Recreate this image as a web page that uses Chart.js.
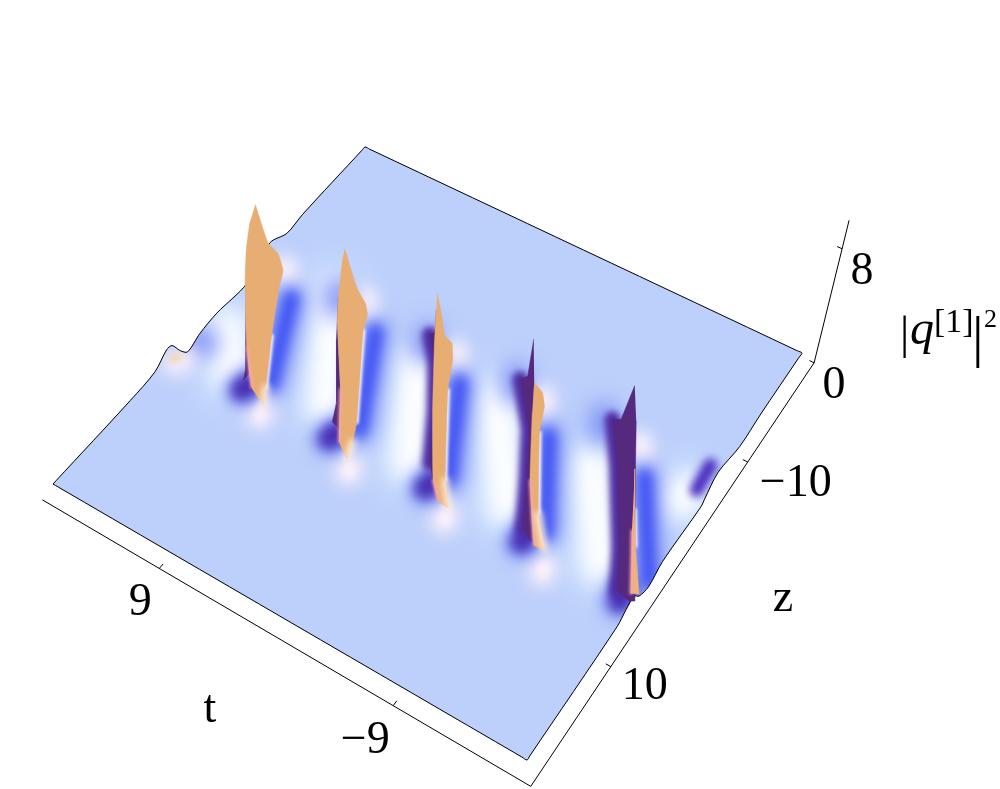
<!DOCTYPE html>
<html>
<head>
<meta charset="utf-8">
<script src="https://cdn.jsdelivr.net/npm/chart.js@4/dist/chart.umd.min.js"></script>
<style>
  body { margin: 0; background: #fff; }
  canvas { display: block; }
</style>
</head>
<body>
<canvas id="canvas" width="1000" height="789"></canvas>
<script>
const leftRim = [[18,20,0],[18,19.6,0],[18,10.1,0],[18,6.9,0.14],[18,5.4,0.77],[18,4.7,0.67],[18,3.7,-0.28],[18,2.8,-0.9],[18,1.2,-0.56],[18,-1,-0.42],[18,-4.8,-0.63],[18,-7.8,0.49],[18,-10,-0.14],[18,-12,0],[18,-19.6,0],[18,-20,0]];
const backRim = [[17.6,-20,0],[-18.6,-20,0]];
const rightRim = [[-19,-20,0],[-19,-19.6,0],[-19,-14,0],[-19,-11,-0.14],[-19,-7.6,0.49],[-19,-5.9,-0.2],[-19,-5.5,-0.42],[-19,0.2,-0.2],[-19,2.1,-0.63],[-19,3.6,-0.2],[-19,4.6,0.5],[-19,5.7,0.35],[-19,6.9,0],[-19,19.6,0],[-19,20,0]];
const frontRim = [[-18.6,20,0],[17.6,20,0]];

const tTickAt = [8.7, -9.5];
const tTickLabels = ['9', '−9'];
const zTicks = [10, -10];
const zTickLabels = ['10', '−10'];
const qTicks = [0, 8];
const qTickLabels = ['0', '8'];

const whiteBands = [
  [[13.85,3.69],[16.33,0.38]],
  [[7.11,2.2],[12.09,-6.89]],
  [[-0.19,3.12],[3.96,-4.73]],
  [[-7.73,2.57],[-2.16,-5.35]],
  [[-15.6,3.09],[-10.83,-3.89]],
  [[-17.75,-5.5],[-17.4,-4.6]]
];
const blueBands = [
  [[11.26,2.74],[14.33,-4.79]],
  [[4.17,2.63],[7.87,-5.54]],
  [[-3.06,2.62],[0.59,-4.93]],
  [[-10.96,2.8],[-7.01,-4.44]],
  [[-19.12,2.46],[-14.51,-5.07]]
];
const darkFeet = [
  [[12.56,4.5],[12.4,3.7]],
  [[5.44,4.58],[5.3,3.8]],
  [[-2.18,4.42],[-2.3,3.6]],
  [[-9.98,4.55],[-10,3.6]],
  [[-18.13,4.99],[-17.9,3.8]]
];
const whiteFeet = [
  [[10.56,5.26],[10.3,5.8]],
  [[3.07,5.83],[2.8,6.4]],
  [[-4.46,5.51],[-4.7,6.1]],
  [[-12.29,5.41],[-12.5,6]],
  [[17.51,5.18],[17.2,4.4]]
];
const upperGlows = [
  [[16.23,-7.01],[15.6,-6.2]],
  [[10.15,-7.71],[9.5,-6.9]],
  [[2.38,-7.23],[1.8,-6.4]],
  [[-4.79,-7.19],[-5.4,-6.4]],
  [[-12.78,-7.41],[-13.4,-6.6]]
];
const blueHazes = [
  [[12,-7.28],[11.4,-6.2]],
  [[4.67,-7.25],[4.2,-6.2]],
  [[-2.4,-7.67],[-2.9,-6.6]],
  [[-9.49,-8.01],[-10,-6.9]],
  [[17.51,3.02],[16.9,2.3]]
];
const darkShoulders = [
  [[4.6,-7.5],[2.9,-5.45],[0.66,-1.66],[-1.33,2.3]],
  [[-2.8,-7.6],[-5.55,-4.17],[-7.65,-0.27],[-9.5,3.5]],
  [[-10.1,-8.1],[-12.32,-4.93],[-15.96,1.12],[-17.55,4.3]]
];
const whiteLinings = [
  [[11.82,1.8,2.5],[10.86,4.07,0.7]],
  [[6.4,-1.2,3.5],[4.42,2.66,0.4]],
  [[-0.66,-0.77,2.8],[-3.19,3.46,0.4]],
  [[-7.89,-0.9,3],[-10.05,2.36,0.5]],
  [[-15.97,-0.56,1.5],[-17.05,0.92,0.5]]
];
const orangeFades = [
  [[10.66,4.68,0],[10.86,4.07,0.7]],
  [[3.5,5.38,0],[3.92,4,0.1]],
  [[-4.36,4.93,0],[-3.19,3.46,0.4]],
  [[-11.61,4.16,0],[-10.05,2.36,0.5]]
];
const rightBumpDark = [[-18.22,-6.05],[-18.04,-8.39]];
const leftBumpTint = [[17.8,5],[17.6,4.6]];

const peak1Orange = [[14.96,-1.12,8.5],[13.83,-0.88,6.5],[13.09,-0.98,6],[12.69,-0.99,5],[12.64,-0.38,4],[11.82,1.8,2.5],[10.86,4.07,0.7],[10.66,4.68,0],[11.79,4.41,0.5],[12.6,3.74,2.5],[14.16,1.43,5],[14.42,0.86,6.8],[14.84,-0.24,7.8]];
const peak1Dark = [[14.04,1.5,4.8],[12.27,4.45,1.5],[12.24,4.75,1],[12.1,4.3,1.2],[13.38,2.46,3.2]];
const peak2Orange = [[8.71,-2.28,7.5],[7.43,-1.93,5.5],[6.72,-1.9,4.8],[6.43,-1.73,4.2],[6.4,-1.2,3.5],[4.42,2.66,0.4],[3.92,4,0.1],[3.5,5.38,0],[4.55,4.74,0.3],[5.85,2.57,2],[7.54,0.37,4.5],[8.05,-0.53,5.5],[8.72,-2.07,7]];
const peak2Dark = [[8.05,-0.53,5.5],[7.44,0.59,3.5],[6.1,2.6,1],[5.86,3.51,0.3],[5.14,3.76,0.3],[5.85,2.57,2],[7.54,0.37,4.5]];
const peak3Orange = [[1.89,-2.99,7],[1.33,-2.75,6],[0.74,-2.34,5],[0.26,-2.57,4.5],[-0.16,-2.11,3.8],[-0.66,-0.77,2.8],[-3.19,3.46,0.4],[-4.36,4.93,0],[-3.59,5.03,0.2],[-2.73,4.39,0.8],[-0.84,1.57,2.8],[1,-1.48,4.6],[1.75,-2.78,6]];
const peak3Dark = [[1.75,-2.78,6],[4.43,-7.94,0],[4.6,-7.5,0],[2.9,-5.45,0],[0.66,-1.66,0],[-1.33,2.3,0],[-2.73,4.39,0.8],[-0.84,1.57,2.8],[1,-1.48,4.6]];
const peak4Orange = [[-6.44,-2.19,5],[-7.07,-2.33,4.5],[-7.55,-1.92,4],[-7.89,-0.9,3],[-10.05,2.36,0.5],[-11.61,4.16,0],[-10.86,4.26,0],[-8.64,1.33,1.5],[-6.86,-1.56,3.5]];
const peak4Dark = [[-5.3,-3.72,6.5],[-3.08,-8.15,0],[-2.8,-7.6,0],[-5.55,-4.17,0],[-7.65,-0.27,0],[-9.5,3.5,0],[-10.55,4.15,0],[-7.8,-0.1,2.5],[-6.44,-2.19,5]];
const peak5Orange = [[-14.97,-1.87,3],[-15.97,-0.56,1.5],[-17.05,0.92,0.5],[-19,3.69,0],[-18.49,3.98,0],[-16.44,0.49,1]];
const peak5Dark = [[-12.84,-4.59,6],[-10.61,-8.46,0],[-10.1,-8.1,0],[-12.32,-4.93,0],[-15.96,1.12,0],[-17.55,4.3,0],[-18.7,4.59,0],[-18.98,4.39,0],[-16.36,0.26,2],[-13.72,-3.74,4.5]];
const pinkEdges = [
  [[12.6,3.74,2.5],[11.79,4.41,0.5]],
  [[5.85,2.57,2],[4.55,4.74,0.3]],
  [[-2.73,4.39,0.8],[-3.59,5.03,0.2]],
  [[-8.64,1.33,1.5],[-10.86,4.26,0]],
  [[-16.44,0.49,1],[-18.49,3.98,0]]
];

// sheet corners on the page, the sheet is bilinear between them
function project(p) {
  const t = p[0], z = p[1], h = p[2] || 0;
  const u = (18 - t) / 37, v = (20 - z) / 40;
  const x = 53 + 474 * u + 312 * v - 37 * u * v;
  const y = 484 + 276 * u - 337 * v - 70 * u * v;
  return { x: x + 0.0062 * (x - 250) * h, y: y - 14.25 * h };
}

const layers = [];

function polygon(points, color, tension) {
  layers.push({
    data: points.map(project), showLine: true, pointRadius: 0, tension: tension || 0,
    fill: 'shape', backgroundColor: color, borderColor: color, borderWidth: 0.5
  });
}
function outline(points, tension) {
  layers.push({
    data: points.map(project), showLine: true, pointRadius: 0, tension: tension || 0,
    fill: false, borderColor: '#000', borderWidth: 1
  });
}
function band(points, color, width, blur) {
  layers.push({
    data: points.map(project), showLine: true, pointRadius: 0, fill: false,
    borderColor: color, borderWidth: width, borderCapStyle: 'round', borderJoinStyle: 'round', blur: blur
  });
}

const sheet = leftRim.concat(backRim, rightRim, frontRim);
const rimTension = 0.3;
polygon(sheet, '#bdd0fb', rimTension);
whiteBands.forEach(b => band(b, '#d4e8ff', 60, 16));
whiteBands.forEach(b => band(b, '#ffffff', 34, 11));
upperGlows.forEach(b => band(b, '#fff4fb', 24, 8));
blueHazes.forEach(b => band(b, '#7c8ef5', 28, 11));
blueBands.forEach(b => band(b, '#8a9cf8', 32, 10));
blueBands.forEach(b => band(b, '#3f52f2', 16, 6));
whiteFeet.forEach(b => band(b, '#fff3fb', 26, 9));
darkFeet.forEach(b => band(b, '#5a6cf0', 30, 9));
darkFeet.forEach(b => band(b, '#4a2cad', 20, 6));
darkShoulders.forEach(b => band(b, '#4f2ca0', 16, 3));
whiteLinings.forEach(b => band(b, '#ffffff', 4, 1.5));
band(rightBumpDark, '#4a2cc0', 14, 4);
band(leftBumpTint, '#f3d2a4', 7, 3);
outline(leftRim.concat(backRim, rightRim, frontRim, [leftRim[0]]), rimTension);

polygon(peak1Dark, '#55297d');
polygon(peak1Orange, '#e8ad72', 0.12);
polygon(peak2Dark, '#55297d');
polygon(peak2Orange, '#e8ad72', 0.12);
polygon(peak3Dark, '#55297d');
polygon(peak3Orange, '#e8ad72', 0.12);
polygon(peak4Dark, '#55297d');
polygon(peak4Orange, '#e8ad72', 0.12);
polygon(peak5Dark, '#55297d');
polygon(peak5Orange, '#eeb27c');
pinkEdges.forEach(b => band(b, '#f7a6ae', 2.5, 1.5));
orangeFades.forEach(b => band(b, '#fdeedd', 7, 3));
whiteFeet.slice(0, 4).forEach(b => band(b, '#fff2f8', 8, 4));

// box axes
outline([[17.8,21.7],[-20.2,21.7],[-20.2,-19.7]]);
outline([[-20.2,-19.7,0],[-20.2,-19.7,10]]);
tTickAt.forEach(t => outline([[t,21.7],[t,21.2]]));
zTicks.forEach(z => outline([[-20.2,z],[-19.8,z]]));
qTicks.forEach(q => outline([[-20.2,-19.7,q],[-19.8,-19.7,q]]));

layers.forEach((l, i) => { l.order = layers.length - i; });

function toPixel(chart, p) {
  const m = project(p);
  return { x: chart.scales.x.getPixelForValue(m.x), y: chart.scales.y.getPixelForValue(m.y) };
}

const softBands = {
  id: 'softBands',
  beforeDatasetDraw(chart, args) {
    const ds = chart.data.datasets[args.index];
    if (!ds.blur) return;
    const ctx = chart.ctx;
    ctx.save();
    ctx.beginPath();
    sheet.forEach((p, i) => {
      const q = toPixel(chart, p);
      if (i === 0) ctx.moveTo(q.x, q.y); else ctx.lineTo(q.x, q.y);
    });
    ctx.closePath();
    ctx.clip();
    ctx.filter = 'blur(' + ds.blur + 'px)';
  },
  afterDatasetDraw(chart, args) {
    if (chart.data.datasets[args.index].blur) chart.ctx.restore();
  }
};

const axisText = {
  id: 'axisText',
  afterDraw(chart) {
    const ctx = chart.ctx;
    const serif = '"Liberation Serif", serif';
    const put = (text, x, y, font) => {
      ctx.font = font;
      ctx.fillText(text, x, y);
    };
    ctx.save();
    ctx.fillStyle = '#000';
    ctx.textAlign = 'center';
    ctx.textBaseline = 'alphabetic';
    const big = '46px ' + serif;
    tTickAt.forEach((t, i) => {
      const q = toPixel(chart, [t, 21.7]);
      put(tTickLabels[i], q.x - (i ? 28 : 19), q.y + 47, big);
    });
    zTicks.forEach((z, i) => {
      const q = toPixel(chart, [-20.2, z]);
      put(zTickLabels[i], q.x + (i ? 48 : 34), q.y + (i ? 34 : 32), big);
    });
    qTicks.forEach((v, i) => {
      const q = toPixel(chart, [-20.2, -19.7, v]);
      put(qTickLabels[i], q.x + 20, q.y + 35, big);
    });
    put('t', 210, 722, big);
    put('z', 783, 611, big);
    ctx.textAlign = 'left';
    put('|', 900, 348, '46px ' + serif);
    put('q', 910, 344, 'italic 48px ' + serif);
    put('[1]', 934, 332, '34px ' + serif);
    put('|', 972, 356, '58px ' + serif);
    put('2', 984, 327, '26px ' + serif);
    ctx.restore();
  }
};

const chart = new Chart(document.getElementById('canvas'), {
  type: 'scatter',
  data: { datasets: layers },
  options: {
    responsive: false,
    animation: false,
    events: [],
    layout: { padding: 0 },
    elements: { line: { tension: 0 } },
    plugins: { legend: { display: false }, tooltip: { enabled: false } },
    scales: {
      x: { type: 'linear', display: false, min: 0, max: 1000 },
      y: { type: 'linear', display: false, min: 0, max: 789, reverse: true }
    }
  },
  plugins: [softBands, axisText]
});
</script>
</body>
</html>
